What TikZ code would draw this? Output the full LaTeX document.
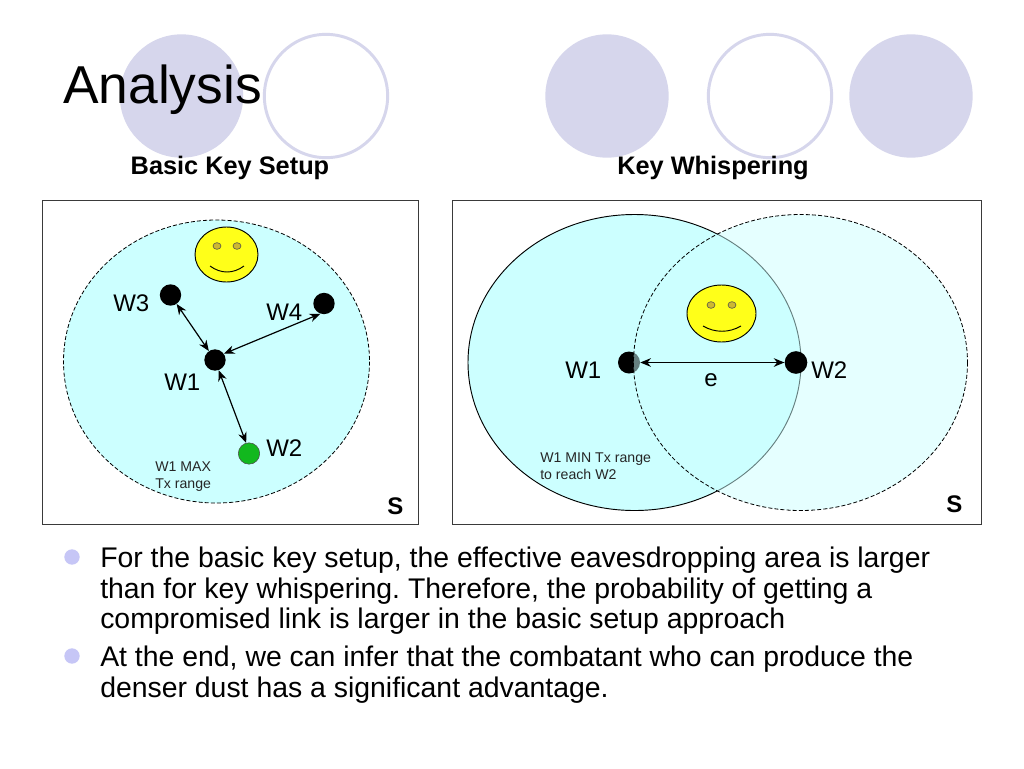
\documentclass[tikz,border=0pt]{standalone}
\usepackage{fontspec}
\setmainfont{Liberation Sans}[RawFeature={-liga}]
\definecolor{lav}{HTML}{D6D6EC}
\definecolor{lavb}{HTML}{C6C6F6}
\definecolor{sky}{HTML}{CCFFFF}
\definecolor{smile}{HTML}{FFFF19}
\definecolor{eye}{HTML}{CCB833}
\definecolor{grn}{HTML}{12B81E}
\definecolor{frame}{HTML}{3A3A3A}
\newcommand{\fs}[2]{\fontsize{#1}{#2}\selectfont}
\tikzset{
  x=0.75pt,y=-0.75pt,
  disc/.style={circle,fill=lav,draw=none,minimum size=92.5pt,inner sep=0pt},
  ring/.style={circle,fill=white,draw=lav,line width=2.2pt,minimum size=92.5pt,inner sep=0pt},
  panel/.style={draw=frame,line width=0.7pt,fill=white},
  station/.style={circle,fill=black,draw=none,minimum size=16pt,inner sep=0pt},
  link/.style={<->,>={Stealth[length=8pt,width=6.5pt]},line width=0.9pt},
  lab/.style={inner sep=0pt,anchor=base west,text=black},
  rng/.style={lab,align=left,text=black!85},
  smileface/.style={fill=smile,draw=black,line width=0.7pt},
  eyeball/.style={ellipse,fill=eye,draw=black!70,line width=0.4pt,minimum width=6pt,minimum height=5pt,inner sep=0pt},
  bull/.style={circle,fill=lavb,draw=none,minimum size=11.5pt,inner sep=0pt},
  body/.style={inner sep=0pt,anchor=north west,align=left,text=black},
  head/.style={inner sep=0pt,anchor=base,font=\bfseries\fs{19}{23}},
}
\usetikzlibrary{arrows.meta,shapes.geometric}
\frenchspacing
\begin{document}
\begin{tikzpicture}
\useasboundingbox (0,0) rectangle (1024,768);
\fill[white] (0,0) rectangle (1024,768);
% decoration circles
\node[disc] (d1) at (181.5,96) {};
\node[ring] (r1) at (326,96) {};
\node[disc] (d2) at (607,96) {};
\node[ring] (r2) at (770,96) {};
\node[disc] (d3) at (911,96) {};
\node[lab,font=\fs{40}{48}] (title) at (63,103) {Analysis};
\node[head] (hl) at (230,174) {Basic Key Setup};
\node[head] (hr) at (713,174) {Key Whispering};
% left panel
\draw[panel] (42,200) rectangle (418,524);
\draw[dashed,dash pattern=on 3pt off 1.6pt,fill=sky,line width=0.6pt] (216.5,361.5) ellipse [x radius=153,y radius=141.5];
\draw[smileface] (226.5,254.5) ellipse [x radius=31.5,y radius=27.5];
\node[eyeball] (le1) at (217,246) {};
\node[eyeball] (le2) at (237,246) {};
\draw[line width=0.7pt] (210,266) .. controls (221,274) and (233,274) .. (244,266);
\node[station] (a1) at (215,360) {};
\node[station] (a3) at (170.5,295) {};
\node[station] (a4) at (324,303.5) {};
\node[station,fill=grn,draw=black!70,line width=0.4pt] (a2) at (249,453.5) {};
\draw[link] (a3) -- (a1);
\draw[link] (a1.35) -- (a4.250);
\draw[link] (a1.-70) -- (a2.105);
\node[lab,font=\fs{18}{22}] (tw3) at (113,311) {W3};
\node[lab,font=\fs{18}{22}] (tw4) at (266,320) {W4};
\node[lab,font=\fs{18}{22}] (tw1) at (164,390) {W1};
\node[lab,font=\fs{18}{22}] (tw2) at (266,456) {W2};
\node[rng,font=\fs{10.6}{12.6},anchor=north west] (tmax) at (155,462) {W1 MAX\\Tx range};
\node[lab,font=\bfseries\fs{18}{22}] (ts1) at (387,514) {S};
% right panel
\draw[panel] (452,200) rectangle (981,524);
\draw[fill=sky,line width=0.7pt] (634.5,362.5) ellipse [x radius=166.5,y radius=148];
\node[station,minimum size=16.5pt] (b1) at (629,362.5) {};
\draw[dashed,dash pattern=on 3pt off 1.6pt,line width=0.6pt,fill=sky,fill opacity=0.5] (800.5,362.5) ellipse [x radius=167,y radius=148];
\draw[smileface] (721.5,313.5) ellipse [x radius=34.5,y radius=28.5];
\node[eyeball] (re1) at (711,305) {};
\node[eyeball] (re2) at (732,305) {};
\draw[line width=0.7pt] (703,326) .. controls (715,333) and (729,333) .. (741,326);
\node[station,minimum size=17pt] (b2) at (796,362.5) {};
\draw[link] (b1) -- (b2);
\node[lab,font=\fs{18}{22}] (twa) at (565,378) {W1};
\node[lab,font=\fs{18}{22}] (twb) at (811,378) {W2};
\node[lab,font=\fs{18}{22}] (te) at (704,386) {e};
\node[rng,font=\fs{10.6}{12.6},anchor=north west] (tmin) at (540,453) {W1 MIN Tx range\\to reach W2};
\node[lab,font=\bfseries\fs{18}{22}] (ts2) at (946,512) {S};
% bullets
\node[bull] (b3) at (72,557) {};
\node[bull] (b4) at (72,656) {};
\node[body,font=\fs{21.3}{22.9}] (p1) at (100,547) {For the basic key setup, the effective eavesdropping area is larger\\than for key whispering. Therefore, the probability of getting a\\compromised link is larger in the basic setup approach};
\node[body,font=\fs{21.3}{22.9}] (p2) at (100,646) {At the end, we can infer that the combatant who can produce the\\denser dust has a significant advantage.};
\end{tikzpicture}
\end{document}
